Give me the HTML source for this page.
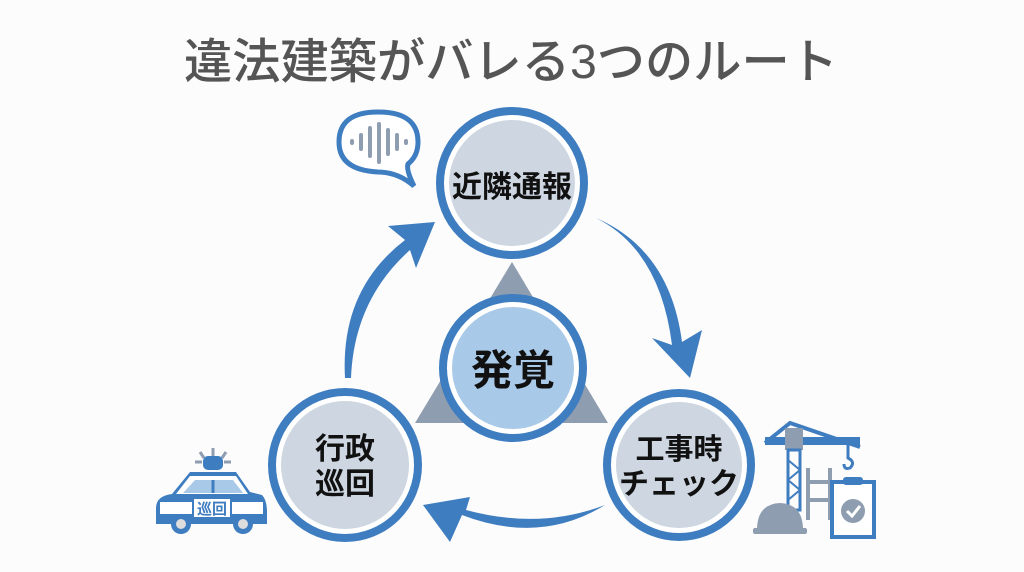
<!DOCTYPE html>
<html><head><meta charset="utf-8"><style>
html,body{margin:0;padding:0;background:#fff;}
svg{display:block;}
text{font-family:"Liberation Sans","Noto Sans CJK JP",sans-serif;}
</style></head><body>
<svg width="1024" height="572" viewBox="0 0 1024 572" xmlns="http://www.w3.org/2000/svg">
<rect width="1024" height="572" fill="#fcfcfc"/>
<text x="511" y="78" text-anchor="middle" font-size="48" fill="#555" font-weight="500" textLength="654" lengthAdjust="spacingAndGlyphs">違法建築がバレる3つのルート</text>

<!-- triangle -->
<polygon points="512,262 415,423 608,423" fill="#8e9db0"/>

<!-- arrows -->
<path d="M345,378 Q340,290 405,240 L388,226 L435,222 L416,268 L410,250 Q354,300 351,378 Z" fill="#3f7dc1"/>
<path d="M596,218 Q660,250 672,345 L652,338 L690,378 L702,330 L682,342 Q670,250 596,218 Z" fill="#3f7dc1"/>
<path d="M605,505 Q540,545 462,515 L450,542 L423,505 L470,497 L466,510 Q540,530 605,505 Z" fill="#3f7dc1"/>

<!-- circles -->
<g stroke="#3f7dc1" stroke-width="8">
<circle cx="512" cy="183" r="72" fill="#fff"/>
<circle cx="513" cy="368" r="70" fill="#fff"/>
<circle cx="345" cy="465" r="73" fill="#fff"/>
<circle cx="679" cy="465" r="72" fill="#fff"/>
</g>
<circle cx="512" cy="183" r="63" fill="#cdd6e1"/>
<circle cx="513" cy="368" r="61" fill="#a9c9e8"/>
<circle cx="345" cy="465" r="64" fill="#cdd6e1"/>
<circle cx="679" cy="465" r="63" fill="#cdd6e1"/>

<text x="512" y="197" text-anchor="middle" font-size="30" font-weight="bold" fill="#111">近隣通報</text>
<text x="513" y="385" text-anchor="middle" font-size="42" font-weight="bold" fill="#111">発覚</text>
<text x="345" y="459" text-anchor="middle" font-size="30" font-weight="bold" fill="#111">行政</text>
<text x="345" y="494" text-anchor="middle" font-size="30" font-weight="bold" fill="#111">巡回</text>
<text x="679" y="459" text-anchor="middle" font-size="29" font-weight="bold" fill="#111">工事時</text>
<text x="679" y="494" text-anchor="middle" font-size="30" font-weight="bold" fill="#111">チェック</text>

<!-- speech bubble -->
<path d="M339,142 Q339,170 378,172 Q398,172 414,186 Q406,170 408,164 Q418,156 418,142 Q418,112 378,112 Q339,112 339,142 Z" fill="#fff" stroke="#3f7dc1" stroke-width="5"/>
<g stroke="#8e9db0" stroke-linecap="round" stroke-width="4">
<line x1="352" y1="141" x2="352" y2="143"/><line x1="361" y1="135" x2="361" y2="149"/><line x1="370" y1="128" x2="370" y2="156"/><line x1="379" y1="124" x2="379" y2="162"/><line x1="388" y1="130" x2="388" y2="154"/><line x1="397" y1="135" x2="397" y2="149"/><line x1="406" y1="141" x2="406" y2="143"/>
</g>

<!-- police car -->
<g>
<g stroke="#8e9db0" stroke-width="3"><line x1="213" y1="448" x2="213" y2="456"/><line x1="200" y1="452" x2="204" y2="458"/><line x1="226" y1="452" x2="222" y2="458"/><line x1="195" y1="462" x2="202" y2="462"/><line x1="224" y1="462" x2="231" y2="462"/></g>
<rect x="203" y="456" width="20" height="14" rx="5" fill="#3f7dc1"/>
<path d="M190,472 L236,472 L250,492 L262,495 Q267,500 267,512 L267,524 L156,524 L156,508 Q156,496 172,494 Z" fill="#3f7dc1"/>
<path d="M190,476 L236,476 L248,494 L176,494 Z" fill="#fff"/>
<path d="M195,480 L233,480 L243,493 L183,493 Z" fill="#a9c9e8"/>
<line x1="213" y1="480" x2="213" y2="493" stroke="#3f7dc1" stroke-width="3"/>
<rect x="160" y="502" width="103" height="12" fill="#fff"/>
<rect x="193" y="498" width="38" height="20" fill="#fff" stroke="#3f7dc1" stroke-width="2"/>
<text x="212" y="514" text-anchor="middle" font-size="15" font-weight="bold" fill="#3f7dc1">巡回</text>
<circle cx="181" cy="524" r="10" fill="#3f7dc1"/><circle cx="181" cy="524" r="5" fill="#ddd"/>
<circle cx="243" cy="524" r="10" fill="#3f7dc1"/><circle cx="243" cy="524" r="5" fill="#ddd"/>
</g>

<!-- construction -->
<g>
<path d="M765,443 L790,423 L860,447" fill="none" stroke="#3f7dc1" stroke-width="4"/>
<rect x="765" y="437" width="95" height="8" fill="#3f7dc1"/>
<rect x="785" y="428" width="18" height="22" fill="#8e9db0"/>
<path d="M788,450 L800,450 L800,510 L788,510 Z" fill="none" stroke="#3f7dc1" stroke-width="3"/>
<path d="M788,460 L800,470 L788,480 L800,490 L788,500" fill="none" stroke="#3f7dc1" stroke-width="2"/>
<path d="M848,445 L848,458 Q856,462 850,468 Q844,470 844,464" fill="none" stroke="#3f7dc1" stroke-width="3"/>
<g stroke="#8e9db0" stroke-width="4" fill="none"><line x1="808" y1="468" x2="808" y2="520"/><line x1="830" y1="468" x2="830" y2="520"/><line x1="806" y1="482" x2="832" y2="482"/><line x1="806" y1="500" x2="832" y2="500"/></g>
<rect x="832" y="482" width="42" height="55" fill="#fff" stroke="#3f7dc1" stroke-width="4"/>
<rect x="843" y="477" width="20" height="8" rx="3" fill="#3f7dc1"/>
<circle cx="853" cy="511" r="12" fill="#8e9db0"/>
<path d="M847,511 L852,516 L860,506" fill="none" stroke="#fff" stroke-width="3"/>
<path d="M757,530 Q757,504 780,503 Q803,504 803,530 Z" fill="#8e9db0"/>
<rect x="753" y="528" width="54" height="6" rx="2" fill="#8e9db0"/>
</g>
</svg>
</body></html>
